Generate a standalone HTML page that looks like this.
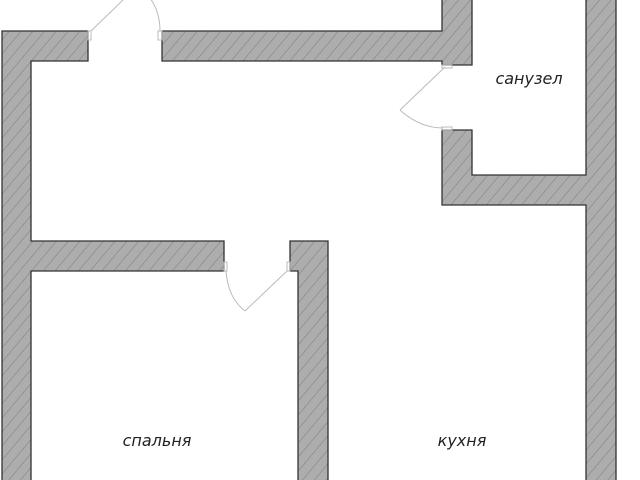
<!DOCTYPE html>
<html><head><meta charset="utf-8"><style>html,body{margin:0;padding:0;background:#fff;width:640px;height:480px;overflow:hidden}</style></head>
<body>
<svg width="640" height="480" viewBox="0 0 640 480" xmlns="http://www.w3.org/2000/svg">
<defs>
<pattern id="h" patternUnits="userSpaceOnUse" width="9" height="9" patternTransform="rotate(40)">
<rect width="9" height="9" fill="#adadad"/>
<line x1="0" y1="0" x2="0" y2="9" stroke="#7c7c7c" stroke-width="1"/>
</pattern>
</defs>
<g fill="url(#h)" stroke="#333" stroke-width="1.3">
<path d="M2,31 H88 V61 H31 V241 H224 V271 H31 V481 H2 Z"/>
<path d="M162,31 H442 V-2 H472 V65 H442 V61 H162 Z"/>
<path d="M442,130 H472 V175 H586 V-2 H616 V481 H586 V205 H442 Z"/>
<path d="M290,241 H328 V481 H298 V271 H290 Z"/>
</g>
<g fill="none" stroke="#bbb" stroke-width="1">
<path d="M91,31 L125,-2"/>
<path d="M150,-2 Q160,12 160,31"/>
<rect x="88" y="31" width="3" height="9"/><rect x="158" y="31" width="4" height="9"/>
<path d="M445,67 L400,110"/>
<path d="M400,110 Q420,128 443,128"/>
<rect x="442" y="65" width="10" height="3"/><rect x="442" y="127" width="10" height="3"/>
<path d="M287,271 L245,311"/>
<path d="M226,271 Q228,298 245,311"/>
<rect x="224" y="262" width="3" height="9"/><rect x="287" y="262" width="3" height="9"/>
</g>
<g font-family="'DejaVu Sans','Liberation Sans',sans-serif" font-style="italic" font-size="16" fill="#222" text-anchor="middle">
<text x="529" y="84">санузел</text>
<text x="157" y="446">спальня</text>
<text x="462" y="446">кухня</text>
</g>
</svg>
</body></html>
